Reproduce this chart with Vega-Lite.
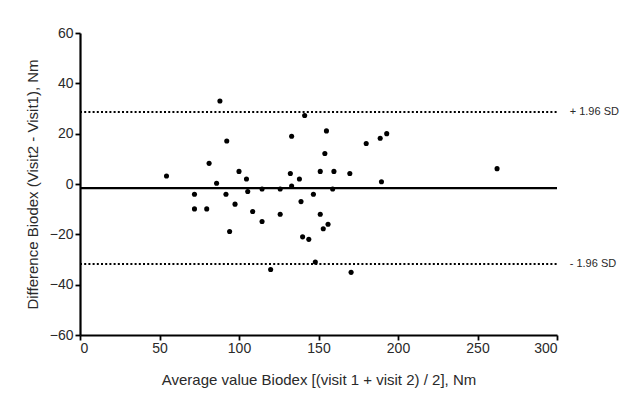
{
  "$schema": "https://vega.github.io/schema/vega-lite/v6.json",
  "width": 477,
  "height": 302,
  "autosize": {"type": "none"},
  "padding": {"left": 80, "top": 33, "right": 84, "bottom": 67},
  "background": "white",
  "config": {
    "view": {"stroke": null},
    "font": "Liberation Sans",
    "axis": {
      "domainColor": "#000",
      "domainWidth": 2.2,
      "tickColor": "#000",
      "tickWidth": 1.8,
      "tickSize": 5,
      "grid": false,
      "labelFont": "Liberation Sans",
      "labelFontSize": 14,
      "labelColor": "#2a2a2a",
      "titleFont": "Liberation Sans",
      "titleFontSize": 15,
      "titleFontWeight": "normal",
      "titleColor": "#2a2a2a"
    }
  },
  "datasets": {
    "points": [
      {"avg": 54.4, "diff": 3.2}, {"avg": 72, "diff": -4.1}, {"avg": 72, "diff": -9.9},
      {"avg": 79.7, "diff": -9.9}, {"avg": 81.2, "diff": 8.2}, {"avg": 85.9, "diff": 0.3},
      {"avg": 88, "diff": 33}, {"avg": 91.8, "diff": -4.1}, {"avg": 92.3, "diff": 17.1},
      {"avg": 94.1, "diff": -18.9}, {"avg": 97.5, "diff": -8.0}, {"avg": 100, "diff": 5.0},
      {"avg": 104.7, "diff": 2.0}, {"avg": 105.5, "diff": -3.0}, {"avg": 108.6, "diff": -10.9},
      {"avg": 114.5, "diff": -2.0}, {"avg": 114.5, "diff": -14.9}, {"avg": 119.9, "diff": -34},
      {"avg": 125.9, "diff": -2.0}, {"avg": 125.9, "diff": -12}, {"avg": 132.3, "diff": 4.2},
      {"avg": 133.1, "diff": 19}, {"avg": 133.1, "diff": -0.8}, {"avg": 138, "diff": 2.0},
      {"avg": 139, "diff": -7.0}, {"avg": 140, "diff": -21}, {"avg": 141.3, "diff": 27.2},
      {"avg": 143.9, "diff": -22}, {"avg": 146.8, "diff": -4.1}, {"avg": 148, "diff": -31},
      {"avg": 151.1, "diff": 5.0}, {"avg": 151.1, "diff": -12}, {"avg": 153, "diff": -17.8},
      {"avg": 154, "diff": 12.1}, {"avg": 155, "diff": 21.1}, {"avg": 156, "diff": -16},
      {"avg": 158.9, "diff": -2.0}, {"avg": 159.7, "diff": 5.0}, {"avg": 169.7, "diff": 4.2},
      {"avg": 170.5, "diff": -35.1}, {"avg": 180, "diff": 16.1}, {"avg": 188.8, "diff": 18.2},
      {"avg": 189.6, "diff": 0.9}, {"avg": 192.9, "diff": 20}, {"avg": 262.3, "diff": 6.1}
    ],
    "lines": [
      {"kind": "mean", "y": -1.6, "x0": 0, "x1": 300},
      {"kind": "upper", "y": 28.6, "x0": 0, "x1": 300, "label": "+ 1.96 SD", "lx": 308},
      {"kind": "lower", "y": -31.8, "x0": 0, "x1": 300, "label": "- 1.96 SD", "lx": 308}
    ]
  },
  "layer": [
    {
      "data": {"name": "lines"},
      "transform": [{"filter": "datum.kind === 'mean'"}],
      "mark": {"type": "rule", "color": "#000", "strokeWidth": 2.2},
      "encoding": {
        "x": {"field": "x0", "type": "quantitative"},
        "x2": {"field": "x1"},
        "y": {"field": "y", "type": "quantitative"}
      }
    },
    {
      "data": {"name": "lines"},
      "transform": [{"filter": "datum.kind !== 'mean'"}],
      "mark": {"type": "rule", "color": "#000", "strokeWidth": 2, "strokeDash": [2, 2.2]},
      "encoding": {
        "x": {"field": "x0", "type": "quantitative"},
        "x2": {"field": "x1"},
        "y": {"field": "y", "type": "quantitative"}
      }
    },
    {
      "data": {"name": "lines"},
      "transform": [{"filter": "datum.kind !== 'mean'"}],
      "mark": {"type": "text", "align": "left", "baseline": "middle", "fontSize": 11, "color": "#2a2a2a", "font": "Liberation Sans"},
      "encoding": {
        "x": {"field": "lx", "type": "quantitative"},
        "y": {"field": "y", "type": "quantitative"},
        "text": {"field": "label"}
      }
    },
    {
      "data": {"name": "points"},
      "mark": {"type": "circle", "color": "#000", "opacity": 1, "size": 26},
      "encoding": {
        "x": {
          "field": "avg", "type": "quantitative",
          "scale": {"domain": [0, 300], "nice": false, "zero": false},
          "axis": {"values": [0, 50, 100, 150, 200, 250, 300], "title": "Average value Biodex [(visit 1 + visit 2) / 2], Nm", "labelPadding": 1, "titlePadding": 17}
        },
        "y": {
          "field": "diff", "type": "quantitative",
          "scale": {"domain": [-60, 60], "nice": false},
          "axis": {"values": [-60, -40, -20, 0, 20, 40, 60], "title": "Difference Biodex (Visit2 - Visit1), Nm", "labelPadding": 2, "titlePadding": 9}
        }
      }
    }
  ]
}
